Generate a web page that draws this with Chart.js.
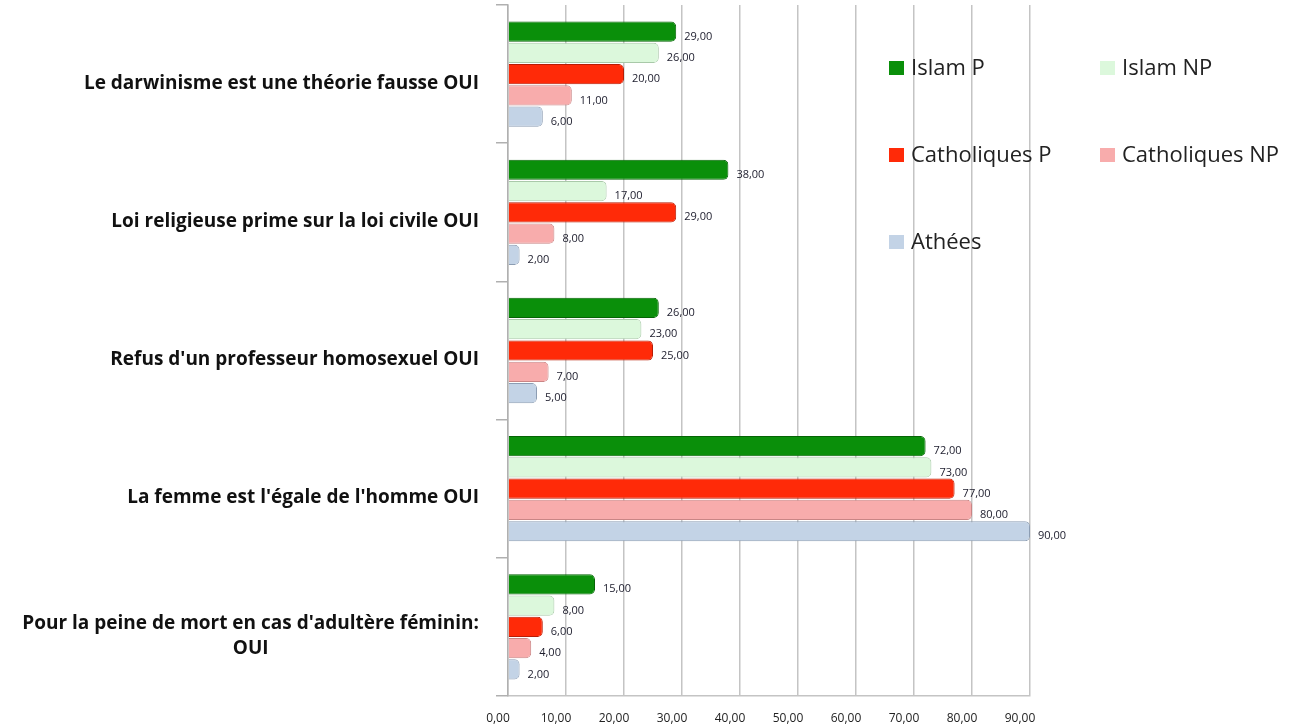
<!DOCTYPE html>
<html>
<head>
<meta charset="utf-8">
<script src="https://cdn.jsdelivr.net/npm/chart.js@4/dist/chart.umd.min.js"></script>
<style>
  html, body { margin: 0; padding: 0; background: #fff; }
  #wrap { width: 1290px; height: 728px; }
</style>
</head>
<body>
<div id="wrap"><canvas id="chart" width="1290" height="728"></canvas></div>
<script>
// Questions (top to bottom)
const categories = [
	"Le darwinisme est une théorie fausse OUI",
	"Loi religieuse prime sur la loi civile OUI",
	"Refus d'un professeur homosexuel OUI",
	"La femme est l'égale de l'homme OUI",
	["Pour la peine de mort en cas d'adultère féminin:", "OUI"]
];

// Series values, same order as categories
const islamP = [29, 38, 26, 72, 15];
const islamNP = [26, 17, 23, 73, 8];
const catholiquesP = [20, 29, 25, 77, 6];
const catholiquesNP = [11, 8, 7, 80, 4];
const athees = [6, 2, 5, 90, 2];

const seriesNames = ["Islam P", "Islam NP", "Catholiques P", "Catholiques NP", "Athées"];
const xTicks = [0, 10, 20, 30, 40, 50, 60, 70, 80, 90];

const fills = ['#0a8f0a', '#dcf8dc', '#ff2a08', '#f8acac', '#c3d3e6'];
const edges = ['#056405', '#a9c9a9', '#b81c05', '#c98585', '#8c9db3'];

const fmt = v => v.toFixed(2).replace('.', ',');

const datasets = [islamP, islamNP, catholiquesP, catholiquesNP, athees].map((values, i) => ({
	label: seriesNames[i],
	data: values,
	backgroundColor: fills[i],
	borderColor: edges[i],
	borderWidth: 1,
	borderSkipped: 'start',
	borderRadius: 5,
	categoryPercentage: 0.77,
	barPercentage: 0.95
}));

// Value labels at the end of each bar
const valueLabels = {
	id: 'valueLabels',
	afterDatasetsDraw(chart) {
		const ctx = chart.ctx;
		ctx.save();
		ctx.font = '11px "Open Sans"';
		ctx.fillStyle = '#1c1c2c';
		ctx.textAlign = 'left';
		ctx.textBaseline = 'middle';
		chart.data.datasets.forEach((ds, i) => {
			chart.getDatasetMeta(i).data.forEach((bar, j) => {
				ctx.fillText(fmt(ds.data[j]), bar.x + 8, bar.y + 5);
			});
		});
		ctx.restore();
	}
};

// Category labels, bold, right aligned, multi-line centred on each other
const categoryLabels = {
	id: 'categoryLabels',
	afterDraw(chart) {
		const ctx = chart.ctx;
		const yScale = chart.scales.y;
		const right = 479;
		ctx.save();
		ctx.font = 'bold 19px "Open Sans"';
		ctx.fillStyle = '#111';
		ctx.textBaseline = 'middle';
		categories.forEach((label, i) => {
			const y = yScale.getPixelForValue(i) + 9;
			if (Array.isArray(label)) {
				const widths = label.map(l => ctx.measureText(l).width);
				const maxW = Math.max(...widths);
				const cx = right - maxW / 2;
				ctx.textAlign = 'center';
				const lh = 25;
				label.forEach((l, k) => {
					ctx.fillText(l, cx, y + (k - (label.length - 1) / 2) * lh);
				});
			} else {
				ctx.textAlign = 'right';
				ctx.fillText(label, right, y);
			}
		});
		ctx.restore();
	}
};

// Legend in two columns over the right part of the plot
const sideLegend = {
	id: 'sideLegend',
	afterDraw(chart) {
		const ctx = chart.ctx;
		const cols = [889, 1100];
		const rows = [68, 155, 242];
		ctx.save();
		ctx.font = '22px "Open Sans"';
		ctx.textAlign = 'left';
		ctx.textBaseline = 'middle';
		seriesNames.forEach((name, i) => {
			const x = cols[i % 2];
			const y = rows[Math.floor(i / 2)];
			ctx.fillStyle = fills[i];
			ctx.fillRect(x, y - 7, 15, 14);
			ctx.fillStyle = '#222';
			ctx.fillText(name, x + 22, y + 1);
		});
		ctx.restore();
	}
};

new Chart(document.getElementById('chart'), {
	type: 'bar',
	data: { labels: categories, datasets: datasets },
	options: {
		indexAxis: 'y',
		responsive: false,
		animation: false,
		layout: { padding: { top: 5, right: 260, bottom: 0, left: 0 } },
		plugins: {
			legend: { display: false },
			tooltip: { enabled: false }
		},
		scales: {
			x: {
				min: 0,
				max: 90,
				afterBuildTicks: scale => { scale.ticks = xTicks.map(v => ({ value: v })); },
				afterFit: scale => { scale.height = 32; },
				grid: { color: '#c4c4c4', lineWidth: 1.5, drawTicks: false },
				border: { color: '#c4c4c4', width: 1.5 },
				ticks: {
					padding: 15,
					labelOffset: -10,
					color: '#222',
					font: { family: 'Open Sans', size: 12 },
					callback: v => fmt(v)
				}
			},
			y: {
				afterFit: scale => { scale.width = 508; },
				grid: { drawOnChartArea: false, drawTicks: true, tickLength: 12, color: '#b0b0b0', lineWidth: 1.5 },
				border: { color: '#b0b0b0', width: 1.5 },
				ticks: { display: false }
			}
		}
	},
	plugins: [valueLabels, categoryLabels, sideLegend]
});
</script>
</body>
</html>
